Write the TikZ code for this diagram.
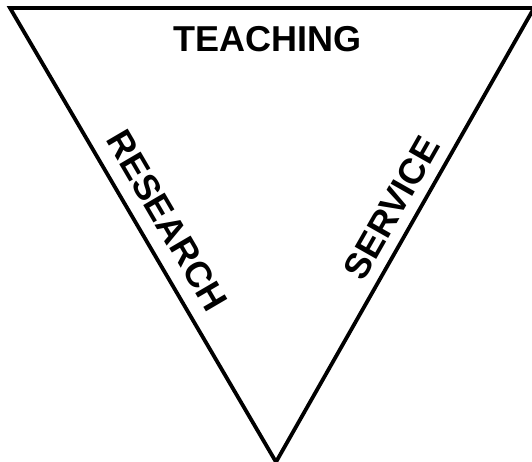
\documentclass[tikz,border=0pt]{standalone}
\usepackage{fontspec}
\setmainfont{Liberation Sans}
\usetikzlibrary{positioning}

\begin{document}
\begin{tikzpicture}[
    x=1pt, y=1pt,
    edge/.style={draw=black, line width=3.8pt, line join=miter},
    label/.style={font=\fontsize{36}{36}\selectfont\bfseries, inner sep=0pt}
]
\useasboundingbox (0,0) rectangle (532,462);

% --- Corners of the triangle ---
\coordinate (tl) at (10, 454);
\coordinate (tr) at (534, 454);
\coordinate (bt) at (276, 0);

% Triangle
\draw[edge] (tl) -- (tr) -- (bt) -- cycle;

% --- Side labels ---
\node[label] (teach) at (267.5, 422.4) {TEACHING};
\path (tl) -- (bt) node[label, pos=0.5, sloped, above=15pt] (research) {RESEARCH};
\path (bt) -- (tr) node[label, pos=0.532, sloped, above=12pt] (service) {SERVICE};

\end{tikzpicture}
\end{document}
